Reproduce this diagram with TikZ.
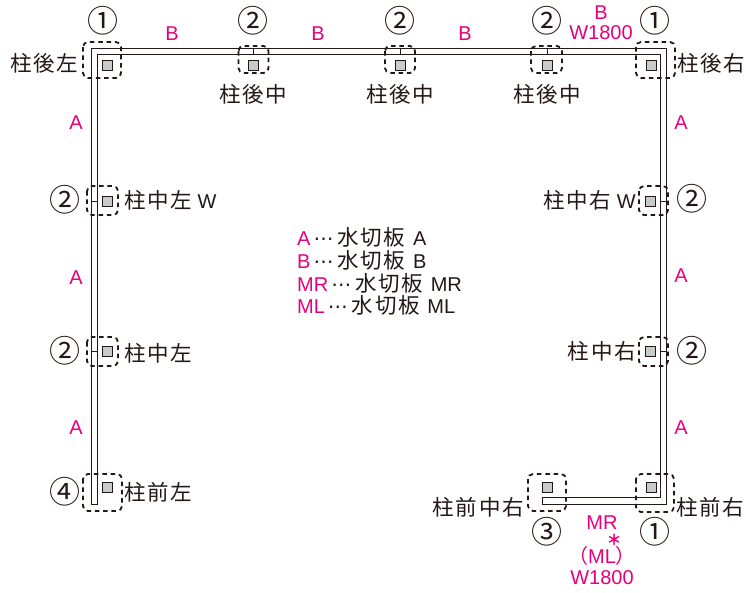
\documentclass[tikz,border=0pt]{standalone}
\usepackage{fontspec}
\setmainfont{Liberation Sans}
\newfontfamily\jpfont[LetterSpace=8]{Noto Sans CJK JP}
\newfontfamily\circfont{Noto Sans CJK JP}
\newfontfamily\dvfont{DejaVu Sans}
\definecolor{pk}{HTML}{E6007E}
\definecolor{ink}{HTML}{231815}
\definecolor{postgray}{HTML}{C9CACA}
\newcommand{\J}[1]{{\fontsize{21.5}{21.5}\selectfont\jpfont #1}}
\newcommand{\Dt}{\kern3pt{\dvfont ⋯}\kern4pt}
\newcommand{\Gp}{\kern2pt\ }
\tikzset{
  rail/.style={draw=ink,line width=1pt,fill=white},
  post/.style={draw=ink,line width=1pt,fill=postgray,minimum size=10pt,inner sep=0pt,shape=rectangle},
  dbox/.style={draw=ink,line width=1.8pt,dash pattern=on 4.5pt off 3.8pt,rounded corners=5pt,fill=none},
  lab/.style={inner sep=0pt,text=ink,font=\fontsize{20}{20}\selectfont},
  pl/.style={inner sep=0pt,text=pk,font=\fontsize{20}{20}\selectfont},
  num/.style={inner sep=0pt,text=ink,font=\fontsize{31}{31}\selectfont\circfont},
}
\begin{document}
\begin{tikzpicture}[x=1pt,y=-1pt]
\useasboundingbox (0,0) rectangle (746,592);
% rails
\draw[rail] (91,504) -- (91,48.7) -- (666,48.7) -- (666,504) -- (542,504) -- (542,497.7) -- (660,497.7) -- (660,54.3) -- (97,54.3) -- (97,504) -- cycle;
% ticks
\foreach \p in {253.5,400,547}{\draw[ink,line width=0.8pt] (\p,48.7) -- (\p,54.3);}
\foreach \p in {201,351}{\draw[ink,line width=0.8pt] (91,\p) -- (97,\p);\draw[ink,line width=0.8pt] (660,\p) -- (666,\p);}
% posts
\node[post] (p1) at (107,65.5) {};
\node[post] (p2) at (253.5,65) {};
\node[post] (p3) at (400,65) {};
\node[post] (p4) at (547,65) {};
\node[post] (p5) at (651,65.5) {};
\node[post] (p6) at (107,201) {};
\node[post] (p7) at (650,201) {};
\node[post] (p8) at (107,351) {};
\node[post] (p9) at (650,351) {};
\node[post] (p10) at (107,487) {};
\node[post] (p11) at (547,487) {};
\node[post] (p12) at (651,487) {};
% dashed boxes
\draw[dbox] (83,42) rectangle (121,78);
\draw[dbox] (238.5,46) rectangle (268.5,73);
\draw[dbox] (385,46) rectangle (415,73);
\draw[dbox] (531,46) rectangle (562,73);
\draw[dbox] (636,42) rectangle (675,78);
\draw[dbox] (87,186) rectangle (118,215);
\draw[dbox] (639,186) rectangle (668,215);
\draw[dbox] (87,337) rectangle (118,366);
\draw[dbox] (639,337) rectangle (668,366);
\draw[dbox] (83,474) rectangle (122,511);
\draw[dbox] (528,474) rectangle (566,511);
\draw[dbox] (636,474) rectangle (674,512);
% circled numbers
\node[num] (n1) at (102.5,21) {①};
\node[num] (n2) at (253,21) {②};
\node[num] (n3) at (400,21) {②};
\node[num] (n4) at (547,21) {②};
\node[num] (n5) at (655,21) {①};
\node[num] (n6) at (65,200) {②};
\node[num] (n7) at (692,199) {②};
\node[num] (n8) at (65,351) {②};
\node[num] (n9) at (692,351) {②};
\node[num] (n10) at (65,492) {④};
\node[num] (n11) at (547,532) {③};
\node[num] (n12) at (655,532) {①};
% pink labels
\node[pl] (b1) at (172,34) {B};
\node[pl] (b2) at (318,34) {B};
\node[pl] (b3) at (465,34) {B};
\node[pl] (b4) at (601,13) {B};
\node[pl] (b5) at (601,33) {W1800};
\node[pl] (a1) at (76,123) {A};
\node[pl] (a2) at (76,278) {A};
\node[pl] (a3) at (76,428) {A};
\node[pl] (a4) at (681,123) {A};
\node[pl] (a5) at (681,276) {A};
\node[pl] (a6) at (681,428) {A};
\node[pl] (m1) at (602,523) {MR};
\node[pl,font=\fontsize{15}{15}\selectfont\circfont\bfseries] (m2) at (614,540) {＊};
\node[pl] (m3) at (602,556) {{\circfont （}ML{\circfont ）}};
\node[pl] (m5) at (602,578) {W1800};
% black labels
\node[lab] (t1) at (44,63) {\J{柱後左}};
\node[lab] (t2) at (711,63) {\J{柱後右}};
\node[lab] (t3) at (253,94) {\J{柱後中}};
\node[lab] (t4) at (400,94) {\J{柱後中}};
\node[lab] (t5) at (547,94) {\J{柱後中}};
\node[lab,anchor=west] (t6) at (124,200) {\J{柱中左} W};
\node[lab,anchor=east] (t7) at (636,200) {\J{柱中右} W};
\node[lab,anchor=west] (t8) at (124,353) {\J{柱中左}};
\node[lab,anchor=east] (t9) at (636,351) {\J{柱中右}};
\node[lab,anchor=west] (t10) at (124,492) {\J{柱前左}};
\node[lab,anchor=east] (t11) at (524,507) {\J{柱前中右}};
\node[lab,anchor=west] (t12) at (676,507) {\J{柱前右}};
% legend
\node[lab,anchor=west] (l1) at (297,237) {\textcolor{pk}{A}\Dt\J{水切板}\Gp A};
\node[lab,anchor=west] (l2) at (297,260) {\textcolor{pk}{B}\Dt\J{水切板}\Gp B};
\node[lab,anchor=west] (l3) at (297,283) {\textcolor{pk}{MR}\Dt\J{水切板}\Gp MR};
\node[lab,anchor=west] (l4) at (297,305) {\textcolor{pk}{ML}\Dt\J{水切板}\Gp ML};
\end{tikzpicture}
\end{document}
